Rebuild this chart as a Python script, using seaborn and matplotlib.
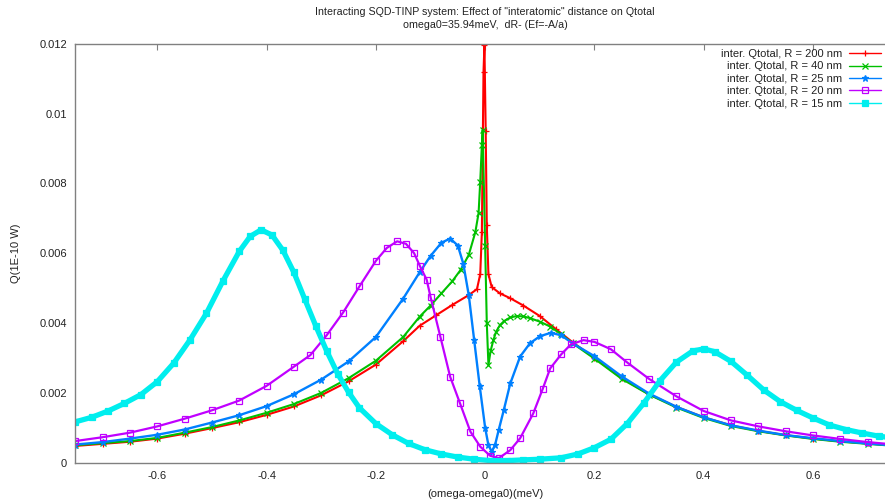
import matplotlib
matplotlib.use("Agg")
import matplotlib.pyplot as plt
import seaborn as sns
from matplotlib.ticker import FuncFormatter

# Detuning (omega - omega0) in meV and total absorbed power Q (1E-10 W)
x_r200 = [-0.75, -0.70, -0.65, -0.60, -0.55, -0.50, -0.45, -0.40, -0.35, -0.30,
          -0.25, -0.20, -0.15, -0.12, -0.09, -0.06, -0.03, -0.015, -0.009, -0.006,
          -0.003, -0.0013, 0.001, 0.003, 0.006, 0.012, 0.027, 0.046, 0.07, 0.10,
          0.13, 0.16, 0.20, 0.25, 0.30, 0.35, 0.40, 0.45, 0.50, 0.55,
          0.60, 0.65, 0.70, 0.75]
q_r200 = [0.00048, 0.00054, 0.00060, 0.00069, 0.00083, 0.00099, 0.00116, 0.00137, 0.00161, 0.00193,
          0.00233, 0.00281, 0.00348, 0.00392, 0.00422, 0.00452, 0.00480, 0.00497, 0.00540, 0.00660,
          0.01120, 0.01195, 0.00950, 0.00680, 0.00540, 0.00503, 0.00485, 0.00471, 0.00450, 0.00420,
          0.00382, 0.00345, 0.00300, 0.00242, 0.00196, 0.00160, 0.00130, 0.00107, 0.00091, 0.00079,
          0.00069, 0.00061, 0.00055, 0.00049]

x_r40 = [-0.75, -0.70, -0.65, -0.60, -0.55, -0.50, -0.45, -0.40, -0.35, -0.30,
         -0.25, -0.20, -0.15, -0.12, -0.10, -0.08, -0.06, -0.045, -0.03, -0.018,
         -0.012, -0.009, -0.006, -0.0045, 0.0, 0.003, 0.006, 0.010, 0.015, 0.020,
         0.027, 0.035, 0.046, 0.058, 0.070, 0.082, 0.10, 0.119, 0.139, 0.16,
         0.20, 0.25, 0.30, 0.35, 0.40, 0.45, 0.50, 0.55, 0.60, 0.65,
         0.70, 0.75]
q_r40 = [0.00050, 0.00056, 0.00062, 0.00071, 0.00086, 0.00102, 0.00121, 0.00143, 0.00168, 0.00200,
         0.00242, 0.00292, 0.00360, 0.00418, 0.00450, 0.00485, 0.00520, 0.00552, 0.00595, 0.00660,
         0.00715, 0.00805, 0.00910, 0.00953, 0.00620, 0.00400, 0.00280, 0.00320, 0.00351, 0.00375,
         0.00394, 0.00406, 0.00416, 0.00420, 0.00419, 0.00414, 0.00404, 0.00390, 0.00368, 0.00342,
         0.00298, 0.00240, 0.00195, 0.00158, 0.00128, 0.00105, 0.00090, 0.00078, 0.00068, 0.00060,
         0.00054, 0.00048]

x_r25 = [-0.75, -0.70, -0.65, -0.60, -0.55, -0.50, -0.45, -0.40, -0.35, -0.30,
         -0.25, -0.20, -0.15, -0.12, -0.10, -0.08, -0.064, -0.05, -0.04, -0.03,
         -0.02, -0.01, 0.0, 0.006, 0.012, 0.018, 0.025, 0.034, 0.046, 0.064,
         0.082, 0.10, 0.12, 0.139, 0.16, 0.20, 0.25, 0.30, 0.35, 0.40,
         0.45, 0.50, 0.55, 0.60, 0.65, 0.70, 0.75]
q_r25 = [0.00052, 0.00059, 0.00069, 0.00080, 0.00095, 0.00115, 0.00136, 0.00162, 0.00196, 0.00238,
         0.00290, 0.00360, 0.00470, 0.00545, 0.00592, 0.00630, 0.00642, 0.00622, 0.00570, 0.00480,
         0.00350, 0.00220, 0.00100, 0.00050, 0.00032, 0.00050, 0.00095, 0.00150, 0.00227, 0.00304,
         0.00342, 0.00362, 0.00372, 0.00365, 0.00342, 0.00305, 0.00247, 0.00198, 0.00160, 0.00130,
         0.00107, 0.00092, 0.00079, 0.00070, 0.00062, 0.00055, 0.00049]

x_r20 = [-0.75, -0.70, -0.65, -0.60, -0.55, -0.50, -0.45, -0.40, -0.35, -0.32,
         -0.29, -0.26, -0.23, -0.20, -0.18, -0.161, -0.145, -0.13, -0.119, -0.107,
         -0.10, -0.082, -0.064, -0.046, -0.027, -0.009, 0.009, 0.025, 0.046, 0.064,
         0.088, 0.105, 0.119, 0.139, 0.157, 0.18, 0.20, 0.23, 0.26, 0.30,
         0.35, 0.40, 0.45, 0.50, 0.55, 0.60, 0.65, 0.70, 0.75]
q_r20 = [0.00062, 0.00073, 0.00086, 0.00104, 0.00126, 0.00150, 0.00178, 0.00220, 0.00275, 0.00308,
         0.00365, 0.00430, 0.00505, 0.00578, 0.00615, 0.00634, 0.00627, 0.00600, 0.00562, 0.00524,
         0.00475, 0.00361, 0.00246, 0.00170, 0.00089, 0.00046, 0.00020, 0.00013, 0.00036, 0.00070,
         0.00141, 0.00210, 0.00270, 0.00310, 0.00339, 0.00351, 0.00346, 0.00325, 0.00287, 0.00240,
         0.00190, 0.00148, 0.00121, 0.00104, 0.00090, 0.00078, 0.00068, 0.00059, 0.00052]

x_r15 = [-0.75, -0.72, -0.69, -0.66, -0.63, -0.60, -0.57, -0.54, -0.51, -0.48,
         -0.45, -0.43, -0.41, -0.39, -0.37, -0.35, -0.33, -0.31, -0.29, -0.27,
         -0.25, -0.23, -0.20, -0.17, -0.14, -0.11, -0.08, -0.05, -0.02, 0.01,
         0.04, 0.07, 0.10, 0.139, 0.17, 0.20, 0.23, 0.26, 0.29, 0.32,
         0.35, 0.38, 0.40, 0.42, 0.45, 0.48, 0.51, 0.54, 0.57, 0.60,
         0.63, 0.66, 0.69, 0.72, 0.75]
q_r15 = [0.00117, 0.00130, 0.00148, 0.00170, 0.00195, 0.00232, 0.00285, 0.00352, 0.00428, 0.00520,
         0.00605, 0.00648, 0.00667, 0.00652, 0.00608, 0.00545, 0.00468, 0.00392, 0.00320, 0.00255,
         0.00202, 0.00157, 0.00112, 0.00080, 0.00055, 0.00037, 0.00025, 0.00016, 0.00010, 0.00006,
         0.00006, 0.00008, 0.00010, 0.00014, 0.00025, 0.00043, 0.00067, 0.00112, 0.00170, 0.00235,
         0.00288, 0.00320, 0.00326, 0.00318, 0.00290, 0.00250, 0.00208, 0.00175, 0.00150, 0.00128,
         0.00108, 0.00095, 0.00085, 0.00076, 0.00070]

series_labels = ["inter. Qtotal, R = 200 nm", "inter. Qtotal, R = 40 nm",
                 "inter. Qtotal, R = 25 nm", "inter. Qtotal, R = 20 nm",
                 "inter. Qtotal, R = 15 nm"]
x_ticks = [-0.6, -0.4, -0.2, 0.0, 0.2, 0.4, 0.6]
y_ticks = [0.0, 0.002, 0.004, 0.006, 0.008, 0.010, 0.012]

sns.set_style("white")
plt.rcParams["font.family"] = ["Liberation Sans", "DejaVu Sans"]
plt.rcParams["font.size"] = 8
plt.rcParams["text.color"] = "#222222"

W, H = 885, 504
fig = plt.figure(figsize=(W / 100, H / 100), dpi=100)
# plot box: left 75 px, top 44 px, bottom 463 px, right edge runs just past the canvas
ax = fig.add_axes([75.3 / W, (H - 462.7) / H, 819.7 / W, 419.0 / H])

# colour, marker, marker size, face colour, line width
curves = [
    (x_r200, q_r200, "#ff0000", "+", 5.0, None, 1.5),
    (x_r40, q_r40, "#00c000", "x", 4.0, None, 1.5),
    (x_r25, q_r25, "#0080ff", "*", 5.0, None, 1.7),
    (x_r20, q_r20, "#c000ff", "s", 3.8, "none", 1.6),
    (x_r15, q_r15, "#00eeee", "s", 4.2, None, 3.8),
]

for (xs, qs, col, mk, ms, face, lw), lab in zip(curves, series_labels):
    sns.lineplot(x=xs, y=qs, ax=ax, color=col, linewidth=lw, marker=mk, markersize=ms,
                 mec=col, mfc=(face if face else col), mew=0.9,
                 estimator=None, sort=False, label=lab, legend=False)

ax.set_xlim(-0.75, 0.75)
ax.set_ylim(0, 0.012)
ax.set_xticks(x_ticks)
ax.set_yticks(y_ticks)
fmt = FuncFormatter(lambda v, p: "%g" % round(v, 6))
ax.xaxis.set_major_formatter(fmt)
ax.yaxis.set_major_formatter(fmt)
ax.tick_params(direction="in", length=4, width=0.8, color="#808080",
               top=True, right=True, labelsize=8, labelcolor="#222222")
ax.tick_params(axis="x", pad=6)
ax.tick_params(axis="y", pad=6)
for sp in ax.spines.values():
    sp.set_color("#808080")
    sp.set_linewidth(1.0)
    sp.set_visible(True)

ax.set_xlabel("(omega-omega0)(meV)", fontsize=8, color="#222222")
ax.set_ylabel("Q(1E-10 W)", fontsize=8, color="#222222")
ax.xaxis.set_label_coords(0.5, -0.062)
ax.yaxis.set_label_coords(-0.066, 0.5)

ax.set_title("Interacting SQD-TINP system: Effect of \"interatomic\" distance on Qtotal\n"
             "omega0=35.94meV,  dR- (Ef=-A/a)", fontsize=7.7, color="#222222",
             linespacing=1.4, pad=11)

leg = ax.legend(loc="upper right", frameon=False, fontsize=8,
                markerfirst=False, handlelength=2.9, handletextpad=0.6,
                labelspacing=0.22, borderpad=0, borderaxespad=0,
                bbox_to_anchor=(881 / W, (H - 49) / H), bbox_transform=fig.transFigure)
for ln in leg.get_lines():
    ln.set_linewidth(1.0)

fig.savefig("out.png", dpi=100)
